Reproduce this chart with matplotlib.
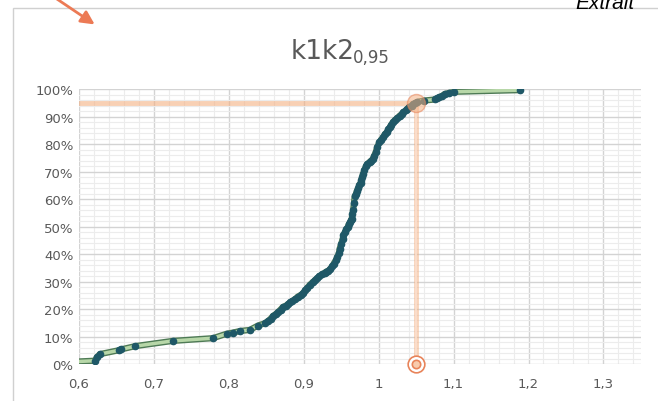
import matplotlib
matplotlib.use('Agg')
import matplotlib.pyplot as plt
import matplotlib.patheffects as pe
from matplotlib.patches import Rectangle, FancyArrowPatch
from matplotlib.ticker import MultipleLocator, FuncFormatter

# k1k2 values (x) and cumulative frequency (y)
k1k2 = [0.590, 0.621, 0.624, 0.628, 0.653, 0.656, 0.675, 0.725, 0.779, 0.797,
        0.805, 0.815, 0.828, 0.839, 0.848, 0.852, 0.856, 0.859, 0.863, 0.866,
        0.869, 0.872, 0.876, 0.879, 0.882, 0.885, 0.889, 0.892, 0.896, 0.899,
        0.902, 0.905, 0.908, 0.912, 0.915, 0.918, 0.921, 0.925, 0.928, 0.930,
        0.933, 0.935, 0.938, 0.940, 0.943, 0.945, 0.947, 0.948, 0.950, 0.952,
        0.953, 0.955, 0.957, 0.959, 0.960, 0.962, 0.963, 0.964, 0.965, 0.966,
        0.967, 0.968, 0.970, 0.971, 0.973, 0.974, 0.976, 0.977, 0.978, 0.979,
        0.981, 0.983, 0.985, 0.988, 0.990, 0.992, 0.994, 0.996, 0.998, 1.001,
        1.003, 1.006, 1.008, 1.011, 1.013, 1.015, 1.017, 1.019, 1.022, 1.025,
        1.028, 1.031, 1.033, 1.036, 1.038, 1.041, 1.044, 1.046, 1.049, 1.051,
        1.060, 1.075, 1.078, 1.081, 1.085, 1.088, 1.094, 1.101, 1.188]
freq = [0.008, 0.012, 0.025, 0.036, 0.050, 0.053, 0.065, 0.084, 0.094, 0.110,
        0.114, 0.120, 0.124, 0.140, 0.148, 0.156, 0.165, 0.175, 0.182, 0.190,
        0.198, 0.207, 0.212, 0.218, 0.224, 0.230, 0.237, 0.245, 0.251, 0.258,
        0.268, 0.278, 0.288, 0.298, 0.305, 0.312, 0.320, 0.327, 0.332, 0.336,
        0.340, 0.345, 0.355, 0.365, 0.378, 0.390, 0.405, 0.420, 0.437, 0.455,
        0.468, 0.480, 0.490, 0.500, 0.508, 0.515, 0.522, 0.527, 0.545, 0.560,
        0.585, 0.610, 0.620, 0.630, 0.640, 0.650, 0.660, 0.670, 0.680, 0.690,
        0.705, 0.720, 0.728, 0.735, 0.740, 0.745, 0.757, 0.770, 0.788, 0.807,
        0.815, 0.825, 0.835, 0.844, 0.853, 0.862, 0.871, 0.880, 0.888, 0.895,
        0.903, 0.910, 0.916, 0.922, 0.928, 0.935, 0.940, 0.945, 0.949, 0.953,
        0.958, 0.962, 0.966, 0.970, 0.976, 0.982, 0.986, 0.990, 0.996]

# 95% quantile
q_level = 0.95
q_value = 1.05

fig = plt.figure(figsize=(6.58, 4.02), dpi=100)
ax = fig.add_axes([0.120, 0.092, 0.854, 0.684])

# chart frame (Excel style)
fig.patches.append(Rectangle((13 / 658, -0.1), 2.0, 1 - 9 / 402 + 0.1,
                             transform=fig.transFigure, fill=False,
                             edgecolor='#D0D0D0', linewidth=1.0, zorder=0))

# grid
ax.xaxis.set_major_locator(MultipleLocator(0.1))
ax.xaxis.set_minor_locator(MultipleLocator(0.02))
ax.yaxis.set_major_locator(MultipleLocator(0.1))
ax.yaxis.set_minor_locator(MultipleLocator(0.02))
ax.grid(which='major', color='#D3D3D3', linewidth=1.0)
ax.grid(which='minor', color='#ECECEC', linewidth=0.8)
ax.set_axisbelow(True)
for s in ax.spines.values():
    s.set_visible(False)

# quantile guide lines
ax.plot([0.6, q_value], [q_level, q_level], color='#F4B183', linewidth=3.5, alpha=0.6, zorder=2)
ax.plot([q_value, q_value], [0, q_level], color='#F4B183', linewidth=3.5, alpha=0.55, zorder=2)
ax.plot([q_value, q_value], [0, q_level], color='#FBE0CF', linewidth=1.2, zorder=2)

# cumulative curve
ax.plot(k1k2, freq, color='#B7D7A8', linewidth=2.5, zorder=3,
        path_effects=[pe.Stroke(linewidth=4.5, foreground='#4E7A55'), pe.Normal()])
ax.plot(k1k2, freq, linestyle='none', marker='o', markersize=4.5,
        color='#1F5867', markeredgecolor='#1F5867', zorder=4)

# markers on the quantile
ax.plot([q_value], [q_level], marker='o', markersize=13, markerfacecolor='#F4B183',
        markeredgecolor='#E8845A', alpha=0.55, zorder=5)
ax.plot([q_value], [0], marker='o', markersize=12, markerfacecolor='white',
        markeredgecolor='#E8845A', markeredgewidth=1.2, zorder=5, clip_on=False)
ax.plot([q_value], [0], marker='o', markersize=6, markerfacecolor='#F8CBAD',
        markeredgecolor='#E8845A', markeredgewidth=1.2, zorder=6, clip_on=False)

ax.set_xlim(0.6, 1.35)
ax.set_ylim(0, 1)
ax.xaxis.set_major_formatter(FuncFormatter(lambda v, p: ('%g' % round(v, 2)).replace('.', ',')))
ax.yaxis.set_major_formatter(FuncFormatter(lambda v, p: '%d%%' % round(v * 100)))
ax.tick_params(which='both', length=0, colors='#595959', labelsize=9.5)
ax.tick_params(axis='x', pad=9)
ax.tick_params(axis='y', pad=4)

# title: "k1k2" with a smaller "0,95" subscript
fig.text(291 / 658, 1 - 49 / 402, 'k1k2', ha='left', va='center_baseline',
         fontsize=19, color='#595959')
fig.text(353 / 658, 1 - 56 / 402, '0,95', ha='left', va='center_baseline',
         fontsize=12, color='#595959')

# arrow and "Extrait" text from the surrounding page
fig.patches.append(FancyArrowPatch((45 / 658, 1.02), (97 / 658, 1 - 27 / 402),
                                   transform=fig.transFigure, arrowstyle='-|>',
                                   mutation_scale=20, color='#EC7A55', linewidth=2))
fig.text(0.875, 0.992, 'Extrait', ha='left', va='center', fontsize=15,
         style='italic', color='black', family='Liberation Sans')

plt.savefig('out.png', dpi=100)
